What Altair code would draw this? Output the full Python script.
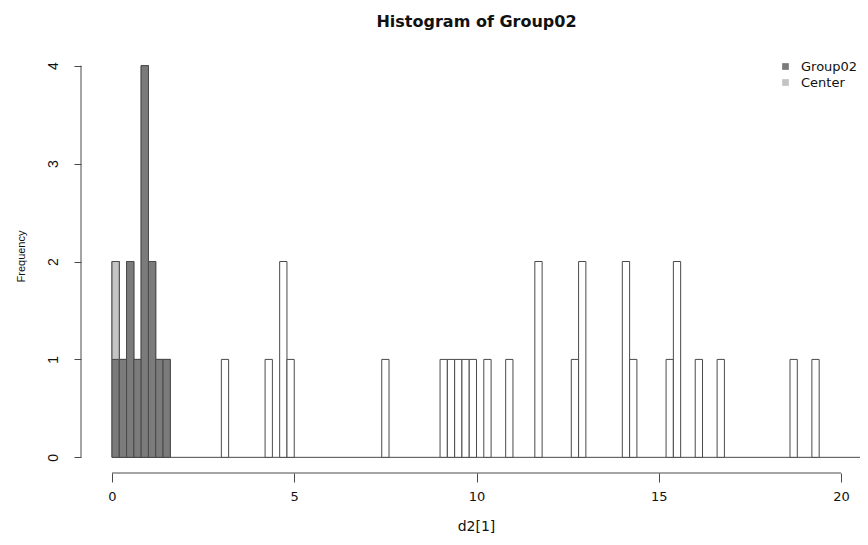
import altair as alt
import pandas as pd

# ---- data ----
bin_width = 0.2
total_starts = [0.0, 0.2, 0.4, 0.6, 0.8, 1.0, 1.2, 1.4, 3.0, 4.2, 4.6, 4.8, 7.4,
                9.0, 9.2, 9.4, 9.6, 9.8, 10.2, 10.8, 11.6, 12.6, 12.8, 14.0, 14.2,
                15.2, 15.4, 16.0, 16.6, 18.6, 19.2]
total_counts = [2, 1, 2, 1, 4, 2, 1, 1, 1, 1, 2, 1, 1,
                1, 1, 1, 1, 1, 1, 1, 2, 1, 2, 2, 1,
                1, 2, 1, 1, 1, 1]
group_starts = [0.0, 0.2, 0.4, 0.6, 0.8, 1.0, 1.2, 1.4]
group_counts = [1, 1, 2, 1, 4, 2, 1, 1]
center_starts = [0.0]
center_counts = [1]
x_ticks = [0, 5, 10, 15, 20]
y_ticks = [0, 1, 2, 3, 4]

FONT = "DejaVu Sans"
VFONT = "Liberation Sans"
STROKE = "#4a4a4a"
DARK = "#7b7b7b"
LIGHT = "#c4c4c4"

x_dom = [-0.85, 20.52]
y_dom = [-0.16, 4.16]

total_df = pd.DataFrame({
    "start": total_starts,
    "end": [s + bin_width for s in total_starts],
    "count": total_counts,
})
group_df = pd.DataFrame({
    "start": group_starts,
    "end": [s + bin_width for s in group_starts],
    "base": [0] * len(group_starts),
    "top": group_counts,
    "series": ["Group02"] * len(group_starts),
})
gmap = dict(zip(group_starts, group_counts))
center_df = pd.DataFrame({
    "start": center_starts,
    "end": [s + bin_width for s in center_starts],
    "base": [gmap.get(s, 0) for s in center_starts],
    "top": [gmap.get(s, 0) + c for s, c in zip(center_starts, center_counts)],
    "series": ["Center"] * len(center_starts),
})

xs = alt.Scale(domain=x_dom, nice=False, zero=False)
ys = alt.Scale(domain=y_dom, nice=False, zero=False)

x_axis = alt.Axis(values=x_ticks, format="d", domain=False, grid=False, tickSize=9,
                  tickColor=STROKE, labelFontSize=13, labelFont=FONT,
                  labelColor="#111", labelPadding=8, title="d2[1]",
                  titleFont=FONT, titleFontSize=14, titleFontWeight="normal",
                  titleColor="#111", titlePadding=16, titleX=395)
y_axis = alt.Axis(values=y_ticks, format="d", domain=False, grid=False, tickSize=7,
                  tickColor=STROKE, labelFontSize=14, labelFont=VFONT,
                  labelColor="#111", labelAngle=270, labelAlign="center",
                  labelBaseline="bottom", labelPadding=14, title="Frequency",
                  titleFont=VFONT, titleFontSize=11, titleFontWeight="normal",
                  titleColor="#111", titlePadding=20, titleY=206)

color_scale = alt.Scale(domain=["Group02", "Center"], range=[DARK, LIGHT])

# baseline at y = 0 across all breaks
base_df = pd.DataFrame({"x0": [0.0], "x1": [x_dom[1]], "y": [0]})
baseline = alt.Chart(base_df).mark_rule(color=STROKE, strokeWidth=1).encode(
    x=alt.X("x0:Q", scale=xs, axis=x_axis),
    x2="x1",
    y=alt.Y("y:Q", scale=ys, axis=y_axis),
)

total_bars = alt.Chart(total_df).mark_bar(
    fill="white", stroke=STROKE, strokeWidth=1, cornerRadius=0
).encode(
    x=alt.X("start:Q", scale=xs),
    x2="end",
    y=alt.Y("count:Q", scale=ys),
    y2=alt.datum(0),
)

legend = alt.Legend(title=None, orient="none", legendX=698, legendY=10,
                    symbolType="square", symbolSize=45, symbolStrokeWidth=0,
                    symbolOpacity=1, labelFont=FONT, labelFontSize=13,
                    labelColor="#111", labelOffset=9, rowPadding=2, padding=0)

group_bars = alt.Chart(group_df).mark_bar(
    stroke=STROKE, strokeWidth=1, opacity=1
).encode(
    x=alt.X("start:Q", scale=xs),
    x2="end",
    y=alt.Y("top:Q", scale=ys),
    y2="base",
    color=alt.Color("series:N", scale=color_scale, legend=legend),
)

center_bars = alt.Chart(center_df).mark_bar(
    stroke=STROKE, strokeWidth=1, opacity=1
).encode(
    x=alt.X("start:Q", scale=xs),
    x2="end",
    y=alt.Y("top:Q", scale=ys),
    y2="base",
    color=alt.Color("series:N", scale=color_scale, legend=legend),
)

# axis lines (R style: only across tick range)
xline_df = pd.DataFrame({"a": [x_ticks[0]], "b": [x_ticks[-1]]})
x_line = alt.Chart(xline_df).mark_rule(color=STROKE, strokeWidth=1).encode(
    x=alt.X("a:Q", scale=xs), x2="b", y=alt.value(423)
)
yline_df = pd.DataFrame({"a": [y_ticks[0]], "b": [y_ticks[-1]]})
y_line = alt.Chart(yline_df).mark_rule(color=STROKE, strokeWidth=1).encode(
    y=alt.Y("a:Q", scale=ys), y2="b", x=alt.value(0)
)

chart = alt.layer(
    baseline, total_bars, group_bars, center_bars, x_line, y_line
).properties(
    width=779,
    height=423,
    autosize=alt.AutoSizeParams(type="none"),
    padding={"left": 73, "top": 42, "right": 0, "bottom": 64},
    title=alt.Title("Histogram of Group02", font=FONT, fontSize=16,
                    fontWeight="bold", color="#111", anchor="middle",
                    dx=6, offset=20),
).configure(background="white").configure_view(strokeWidth=0, stroke="transparent")

chart.save("out.html", embed_options={"renderer": "svg", "actions": False})
